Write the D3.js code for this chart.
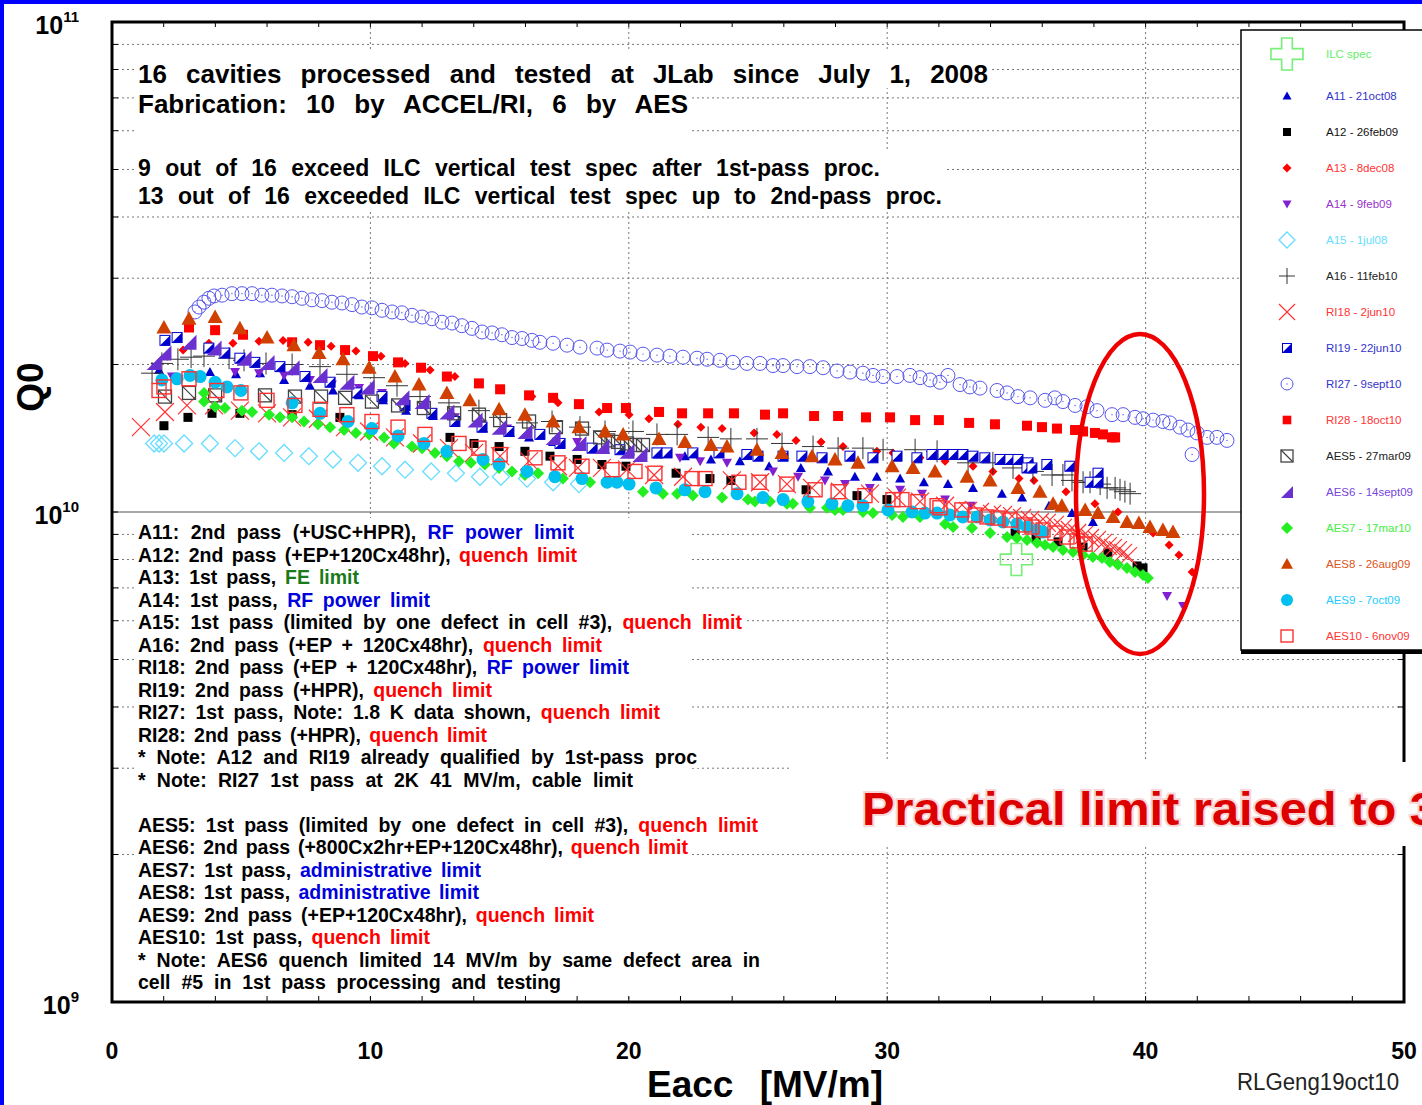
<!DOCTYPE html>
<html>
<head>
<meta charset="utf-8">
<script src="https://cdn.jsdelivr.net/npm/d3@7"></script>
<style>
  body { margin: 0; background: #fff; }
  svg { display: block; }
  text { font-family: "Liberation Sans", Arial, sans-serif; white-space: pre; }
</style>
</head>
<body>
<svg id="chart" width="1422" height="1105"></svg>
<script>
// Q0 values are in units of 1e10, Eacc in MV/m
var ilcSpec = [[35.0, 0.80]];
var a11 = [[1.82,1.95],[3.79,1.93],[4.80,1.91],[5.73,1.92],[6.66,1.86],[7.66,1.81],[8.55,1.77],[9.56,1.73],[10.49,1.69],[11.38,1.61],[12.42,1.57],[13.27,1.52],[14.36,1.48],[15.4,1.45],[16.14,1.42],[17.07,1.39],[18.07,1.36],[19.08,1.34],[20.05,1.33],[21.13,1.31],[22.17,1.30],[23.18,1.28],[24.3,1.27],[25.43,1.24],[26.66,1.23],[27.71,1.21],[28.75,1.18],[29.6,1.18],[30.5,1.17],[31.42,1.15],[32.35,1.14],[33.32,1.12],[34.44,1.09],[35.22,1.07],[36.26,1.03],[37.15,0.995],[37.96,0.954]];
var a12 = [[2.01,1.50],[2.94,1.56],[3.87,1.59],[4.95,1.59],[6.97,1.58],[8.82,1.56],[13.08,1.42],[14.01,1.38],[14.98,1.36],[15.98,1.33],[16.95,1.30],[18.0,1.28],[18.96,1.25],[19.89,1.24],[21.83,1.20],[23.14,1.17],[23.95,1.16],[26.86,1.11],[28.83,1.08],[29.99,1.06],[34.95,0.906],[35.76,0.885],[36.61,0.869],[37.58,0.848],[38.54,0.825],[39.67,0.776],[39.9,0.769]];
var a13 = [[2.13,2.08],[2.75,2.14],[3.75,2.21],[4.68,2.21],[5.69,2.23],[6.62,2.24],[7.59,2.22],[8.48,2.18],[9.44,2.13],[10.41,2.08],[11.34,2.01],[12.31,1.95],[13.27,1.89],[16.25,1.72],[17.26,1.67],[18.85,1.60],[20.01,1.58],[20.78,1.55],[21.9,1.51],[22.79,1.49],[23.61,1.48],[24.85,1.45],[25.73,1.44],[26.47,1.40],[27.44,1.39],[28.29,1.36],[29.6,1.33],[30.22,1.32],[31.27,1.29],[32.24,1.27],[33.32,1.24],[34.09,1.21],[35.1,1.17],[35.68,1.16],[36.92,1.10],[38.04,1.04],[38.93,1.0],[40.29,0.906],[40.91,0.856],[41.29,0.817],[41.8,0.754]];
var a14 = [[2.32,1.89],[4.76,1.93],[5.69,1.92],[6.66,1.90],[7.66,1.86],[8.51,1.82],[9.56,1.79],[10.45,1.75],[11.34,1.65],[12.38,1.60],[13.27,1.56],[14.32,1.51],[15.29,1.48],[18.0,1.39],[21.98,1.29],[22.76,1.27],[23.8,1.26],[25.58,1.21],[26.55,1.18],[27.59,1.16],[28.37,1.14],[29.33,1.12],[30.5,1.11],[31.35,1.09],[32.24,1.06],[33.24,1.03],[40.83,0.674],[41.45,0.643]];
var a15 = [[1.63,1.38],[1.82,1.38],[2.01,1.38],[2.79,1.38],[3.79,1.38],[4.76,1.35],[5.69,1.33],[6.66,1.32],[7.62,1.30],[8.55,1.28],[9.52,1.26],[10.45,1.24],[11.34,1.22],[12.35,1.21],[13.31,1.20],[14.24,1.18],[15.05,1.18],[16.06,1.17],[17.07,1.15],[18.07,1.14]];
var a16 = [[1.55,1.92],[1.93,2.01],[2.55,2.05],[3.06,2.07],[3.56,2.08],[4.53,2.06],[5.11,2.04],[5.96,2.01],[6.97,2.00],[8.05,1.98],[9.09,1.91],[10.14,1.88],[11.03,1.81],[11.92,1.72],[13.04,1.67],[14.2,1.61],[15.02,1.56],[16.06,1.52],[17.03,1.53],[18.11,1.49],[19.08,1.46],[20.16,1.46],[21.09,1.44],[21.87,1.44],[23.07,1.42],[23.95,1.41],[24.96,1.41],[25.93,1.38],[27.13,1.36],[28.1,1.35],[29.06,1.35],[29.84,1.34],[31.08,1.34],[31.93,1.33],[33.13,1.26],[34.09,1.26],[34.87,1.23],[35.64,1.21],[36.38,1.19],[36.8,1.19],[37.15,1.16],[37.58,1.15],[37.85,1.15],[38.24,1.14],[38.51,1.12],[38.82,1.12],[39.01,1.11],[39.2,1.10],[39.4,1.09]];
var ri18 = [[1.12,1.49],[2.05,1.60],[2.9,1.65],[3.95,1.65],[4.95,1.61],[6.0,1.59],[6.97,1.56],[7.97,1.55],[9.02,1.49],[9.95,1.46],[10.95,1.42],[12.0,1.38],[13.04,1.35],[14.01,1.32],[15.02,1.30],[16.14,1.27],[17.26,1.24],[18.03,1.23],[18.96,1.23],[19.93,1.22],[20.98,1.19],[22.1,1.18],[23.99,1.16],[25.08,1.15],[26.12,1.14],[27.09,1.12],[28.17,1.10],[29.33,1.09],[30.38,1.07],[31.27,1.05],[32.24,1.03],[32.7,1.01],[33.13,1.005],[33.59,1.0],[34.06,0.991],[34.48,0.986],[34.83,0.981],[35.22,0.972],[35.53,0.963],[35.91,0.954],[36.18,0.95],[36.49,0.941],[36.8,0.928],[37.07,0.919],[37.35,0.906],[37.62,0.898],[37.85,0.885],[38.12,0.877],[38.35,0.865],[38.54,0.852],[38.74,0.845],[38.93,0.836],[39.13,0.825],[39.32,0.813]];
var ri19 = [[2.05,2.24],[2.52,2.27],[3.75,2.16],[4.37,2.11],[4.95,2.06],[5.53,2.02],[6.5,1.98],[7.47,1.89],[8.44,1.84],[9.48,1.75],[10.45,1.72],[11.34,1.65],[12.38,1.59],[13.27,1.53],[14.32,1.49],[15.36,1.46],[16.56,1.44],[17.34,1.38],[18.58,1.35],[19.66,1.34],[21.09,1.32],[21.48,1.32],[22.48,1.32],[23.49,1.32],[24.57,1.31],[25.0,1.30],[25.97,1.30],[26.7,1.30],[27.48,1.29],[28.56,1.30],[29.45,1.29],[30.38,1.30],[31.15,1.29],[31.73,1.31],[32.16,1.31],[32.55,1.31],[32.93,1.31],[33.32,1.30],[33.78,1.29],[34.37,1.28],[34.75,1.28],[35.06,1.28],[35.45,1.26],[35.41,1.23],[35.6,1.23],[36.18,1.25],[37.07,1.24],[38.16,1.20],[37.85,1.15],[38.16,1.15]];
var ri27 = [[3.21,2.56],[3.37,2.62],[3.56,2.68],[3.75,2.73],[3.95,2.76],[4.26,2.77],[4.64,2.79],[5.03,2.79],[5.42,2.79],[5.80,2.77],[6.19,2.77],[6.58,2.76],[6.97,2.75],[7.35,2.73],[7.74,2.71],[8.13,2.70],[8.51,2.68],[8.90,2.67],[9.29,2.65],[9.67,2.62],[10.06,2.61],[10.45,2.58],[10.84,2.56],[11.22,2.55],[11.61,2.52],[12.0,2.50],[12.38,2.48],[12.77,2.44],[13.16,2.43],[13.54,2.40],[13.93,2.37],[14.32,2.33],[14.71,2.32],[15.09,2.30],[15.48,2.27],[15.87,2.26],[16.25,2.24],[16.56,2.22],[17.07,2.21],[17.61,2.19],[18.11,2.17],[18.77,2.16],[19.16,2.14],[19.66,2.13],[20.05,2.12],[20.55,2.10],[21.09,2.09],[21.59,2.08],[22.1,2.07],[22.64,2.06],[23.03,2.05],[23.53,2.04],[24.03,2.02],[24.57,2.01],[25.08,2.01],[25.58,1.99],[25.97,1.99],[26.51,1.98],[27.01,1.98],[27.52,1.97],[28.06,1.94],[28.56,1.93],[29.06,1.92],[29.45,1.90],[29.84,1.89],[30.38,1.89],[30.88,1.90],[31.27,1.88],[31.66,1.86],[32.04,1.84],[32.35,1.90],[32.82,1.82],[33.2,1.80],[33.59,1.79],[34.25,1.77],[34.64,1.75],[35.06,1.72],[35.53,1.71],[36.11,1.69],[36.49,1.71],[36.8,1.68],[37.27,1.65],[37.73,1.64],[38.12,1.61],[38.7,1.58],[39.13,1.58],[39.59,1.56],[39.9,1.55],[40.29,1.54],[40.67,1.53],[40.94,1.52],[41.33,1.49],[41.64,1.47],[41.99,1.45],[42.38,1.42],[42.76,1.42],[43.15,1.40],[41.8,1.31]];
var ri28 = [[2.98,2.38],[3.99,2.35],[5.07,2.30],[6.97,2.22],[8.05,2.19],[9.02,2.14],[10.10,2.08],[11.07,2.02],[11.96,1.97],[12.96,1.89],[14.20,1.83],[15.02,1.78],[16.14,1.73],[17.07,1.71],[18.07,1.66],[19.16,1.63],[19.89,1.63],[21.17,1.60],[22.06,1.59],[23.07,1.59],[24.07,1.59],[25.27,1.58],[25.97,1.59],[27.17,1.57],[28.10,1.57],[29.18,1.56],[30.11,1.56],[31.08,1.54],[32.0,1.54],[33.17,1.52],[34.17,1.51],[35.41,1.50],[35.99,1.49],[36.57,1.48],[37.27,1.47],[37.58,1.46],[38.04,1.45],[38.35,1.44],[38.70,1.42],[38.82,1.42]];
var aes5 = [[2.05,1.72],[2.98,1.75],[3.99,1.73],[5.92,1.73],[7.08,1.72],[8.09,1.72],[9.02,1.71],[10.06,1.68],[11.07,1.65],[12.07,1.63],[13.24,1.59],[14.2,1.58],[15.02,1.54],[16.14,1.53],[17.18,1.49],[18.19,1.48],[18.89,1.42],[19.2,1.40],[19.58,1.39],[19.93,1.38],[20.24,1.37],[20.55,1.37]];
var aes6 = [[1.63,2.02],[2.01,2.11],[2.98,2.22],[3.95,2.16],[5.11,2.06],[6.0,2.02],[6.97,1.97],[8.05,1.90],[9.09,1.84],[9.87,1.80],[11.22,1.71],[12.0,1.68],[12.96,1.60],[14.05,1.54],[14.98,1.49],[15.98,1.46],[17.07,1.42],[18.07,1.38],[18.96,1.36],[19.93,1.33],[20.43,1.31]];
var aes7 = [[3.56,1.75],[3.56,1.68],[3.99,1.64],[4.37,1.63],[5.03,1.61],[5.42,1.60],[6.08,1.58],[6.5,1.56],[6.97,1.56],[7.43,1.53],[7.97,1.51],[8.44,1.49],[8.98,1.47],[9.44,1.45],[9.95,1.44],[10.53,1.42],[10.91,1.38],[11.61,1.36],[12.0,1.35],[12.5,1.32],[12.96,1.30],[13.43,1.27],[13.89,1.26],[14.43,1.25],[14.98,1.23],[15.48,1.21],[15.98,1.19],[16.49,1.20],[17.45,1.17],[18.5,1.15],[19.54,1.15],[20.55,1.10],[21.32,1.09],[21.87,1.09],[22.48,1.08],[23.61,1.07],[24.61,1.06],[24.88,1.05],[25.46,1.05],[26.12,1.04],[26.35,1.04],[27.01,1.02],[27.67,1.02],[27.98,1.01],[28.29,1.01],[29.06,1.0],[29.45,0.995],[30.19,0.986],[30.61,0.977],[31.27,0.977],[32.24,0.945],[32.55,0.932],[33.28,0.928],[33.98,0.906],[34.64,0.889],[35.02,0.885],[35.41,0.877],[35.8,0.865],[36.11,0.856],[36.42,0.848],[36.8,0.836],[37.19,0.829],[37.58,0.817],[37.96,0.809],[38.31,0.806],[38.62,0.791],[38.93,0.780],[39.28,0.769],[39.59,0.754],[39.9,0.744],[40.09,0.733]];
var aes8 = [[2.01,2.38],[2.98,2.48],[3.99,2.50],[4.95,2.37],[6.00,2.27],[7.04,2.19],[8.01,2.11],[8.94,2.05],[9.95,1.97],[10.95,1.89],[11.88,1.82],[12.96,1.75],[13.85,1.69],[14.98,1.62],[15.98,1.58],[17.07,1.53],[18.07,1.49],[19.08,1.46],[19.78,1.44],[21.17,1.41],[22.17,1.39],[23.18,1.37],[23.80,1.36],[24.96,1.34],[25.93,1.32],[27.09,1.30],[27.98,1.28],[28.87,1.26],[30.19,1.24],[31.0,1.23],[31.85,1.21],[33.09,1.18],[33.98,1.16],[35.06,1.12],[35.91,1.10],[36.42,1.04],[36.76,1.03],[37.66,1.01],[38.16,0.995],[38.74,0.977],[39.28,0.954],[39.74,0.95],[40.17,0.932],[40.67,0.919],[41.06,0.91]];
var aes9 = [[1.93,1.86],[2.52,1.87],[3.02,1.90],[3.41,1.89],[3.99,1.84],[4.45,1.80],[4.99,1.77],[6.97,1.67],[8.05,1.59],[9.13,1.53],[10.06,1.48],[11.07,1.43],[12.07,1.38],[12.96,1.33],[14.36,1.28],[14.98,1.25],[16.06,1.21],[17.14,1.18],[18.19,1.17],[19.16,1.15],[19.54,1.15],[20.01,1.14],[21.05,1.12],[22.17,1.11],[22.95,1.10],[24.19,1.09],[25.19,1.07],[25.97,1.06],[26.93,1.05],[27.86,1.04],[28.48,1.03],[29.06,1.03],[30.03,1.01],[30.96,1.0],[31.46,0.995],[31.93,0.995],[32.43,0.986],[32.93,0.977],[33.48,0.977],[33.98,0.963],[34.48,0.954],[35.02,0.945],[35.41,0.932],[35.8,0.919],[36.03,0.91]];
var aes10 = [[1.82,1.77],[2.01,1.80],[2.98,1.87],[4.06,1.77],[4.99,1.75],[6.0,1.69],[7.08,1.65],[8.05,1.62],[9.09,1.58],[10.06,1.53],[11.07,1.49],[12.11,1.44],[13.43,1.38],[14.2,1.35],[15.02,1.31],[16.37,1.29],[17.26,1.26],[18.19,1.24],[19.35,1.22],[20.24,1.21],[21.01,1.20],[22.45,1.17],[22.95,1.17],[24.26,1.15],[25.04,1.15],[26.12,1.14],[27.21,1.11],[28.1,1.10],[29.14,1.08],[30.22,1.06],[30.57,1.06],[31.19,1.05],[31.93,1.03],[32.04,1.02],[32.89,1.01],[33.4,0.986],[33.86,0.977],[34.29,0.972],[34.75,0.963],[35.33,0.941],[35.6,0.932],[36.03,0.919],[36.49,0.906],[36.96,0.889],[37.35,0.873],[37.66,0.86]];

var legendLabels = ["ILC spec", "A11 - 21oct08", "A12 - 26feb09", "A13 - 8dec08", "A14 - 9feb09", "A15 - 1jul08", "A16 - 11feb10", "RI18 - 2jun10", "RI19 - 22jun10", "RI27 - 9sept10", "RI28 - 18oct10", "AES5 - 27mar09", "AES6 - 14sept09", "AES7 - 17mar10", "AES8 - 26aug09", "AES9 - 7oct09", "AES10 - 6nov09"];
var xTicks = [0, 10, 20, 30, 40, 50];

var topLines = [
  "16 cavities processed and tested at JLab since July 1, 2008",
  "Fabrication: 10 by ACCEL/RI, 6 by AES",
  "9 out of 16 exceed ILC vertical test spec after 1st-pass proc.",
  "13 out of 16 exceeded ILC vertical test spec up to 2nd-pass proc."
];
var noteLines = [
  [["A11: 2nd pass (+USC+HPR), ", "k"], ["RF power limit", "b"]],
  [["A12: 2nd pass (+EP+120Cx48hr), ", "k"], ["quench limit", "r"]],
  [["A13: 1st pass, ", "k"], ["FE limit", "g"]],
  [["A14: 1st pass, ", "k"], ["RF power limit", "b"]],
  [["A15: 1st pass (limited by one defect in cell #3), ", "k"], ["quench limit", "r"]],
  [["A16: 2nd pass (+EP + 120Cx48hr), ", "k"], ["quench limit", "r"]],
  [["RI18: 2nd pass (+EP + 120Cx48hr), ", "k"], ["RF power limit", "b"]],
  [["RI19: 2nd pass (+HPR), ", "k"], ["quench limit", "r"]],
  [["RI27: 1st pass, Note: 1.8 K data shown, ", "k"], ["quench limit", "r"]],
  [["RI28: 2nd pass (+HPR), ", "k"], ["quench limit", "r"]],
  [["* Note: A12 and RI19 already qualified by 1st-pass proc", "k"]],
  [["* Note: RI27 1st pass at 2K 41 MV/m, cable limit", "k"]],
  [],
  [["AES5: 1st pass (limited by one defect in cell #3), ", "k"], ["quench limit", "r"]],
  [["AES6: 2nd pass (+800Cx2hr+EP+120Cx48hr), ", "k"], ["quench limit", "r"]],
  [["AES7: 1st pass, ", "k"], ["administrative limit", "b"]],
  [["AES8: 1st pass, ", "k"], ["administrative limit", "b"]],
  [["AES9: 2nd pass (+EP+120Cx48hr), ", "k"], ["quench limit", "r"]],
  [["AES10: 1st pass, ", "k"], ["quench limit", "r"]],
  [["* Note: AES6 quench limited 14 MV/m by same defect area in", "k"]],
  [["cell #5 in 1st pass processing and testing", "k"]]
];
// right end of each note line in the reference, used to spread the words
var noteEnds = [574, 577, 359, 430, 742, 602, 629, 492, 660, 487, 697, 633, 0, 758, 688, 481, 479, 594, 430, 760, 561];
var topEnds = [988, 688, 880, 942];

var inkColor = { k: "#000", b: "#0000dd", r: "#ff0000", g: "#1a7a1a" };

var series = [
  { data: a11, type: "triUp", color: "#0000cc", size: 5, lsize: 4.5, text: "#3333cc" },
  { data: a12, type: "square", color: "#000000", size: 4.5, lsize: 4, text: "#111" },
  { data: a13, type: "diamond", color: "#ff0000", size: 4.5, lsize: 4.5, text: "#ff3333" },
  { data: a14, type: "triDown", color: "#8020d0", size: 5, lsize: 4.5, text: "#9933cc" },
  { data: a15, type: "diamondOpen", color: "#66ddff", size: 8.5, lsize: 8, text: "#66ddff" },
  { data: a16, type: "plus", color: "#333333", size: 11, lsize: 8, text: "#222" },
  { data: ri18, type: "cross", color: "#ff3333", size: 9, lsize: 8, text: "#ff3333" },
  { data: ri19, type: "halfSquare", color: "#0000cc", size: 5, lsize: 4.5, text: "#3333cc" },
  { data: ri27, type: "circleDot", color: "#5555ee", size: 7, lsize: 6, text: "#3333cc" },
  { data: ri28, type: "square", color: "#ff0000", size: 5, lsize: 4.3, text: "#ff3333" },
  { data: aes5, type: "squareSlash", color: "#444444", size: 6.5, lsize: 6, text: "#222" },
  { data: aes6, type: "rightTri", color: "#6a30d0", size: 7.5, lsize: 6, text: "#7744dd" },
  { data: aes7, type: "diamond", color: "#22ee22", size: 6, lsize: 6, text: "#44ee44" },
  { data: aes8, type: "triUp", color: "#d04000", size: 7.5, lsize: 6, text: "#dd5522" },
  { data: aes9, type: "circle", color: "#00c0f0", size: 6.5, lsize: 6, text: "#22ccff" },
  { data: aes10, type: "squareOpen", color: "#ff3030", size: 7, lsize: 6, text: "#ff3333" }
];

var svg = d3.select("#chart");
var x = d3.scaleLinear().domain([0, 50]).range([112, 1404]);
var y = d3.scaleLog().domain([1e9, 1e11]).range([1002, 22]);

function mark(g, type, c, s) {
  if (type == "triUp") {
    g.append("path").attr("d", `M0,${-s}L${s},${s * 0.8}L${-s},${s * 0.8}Z`).attr("fill", c);
  } else if (type == "triDown") {
    g.append("path").attr("d", `M0,${s}L${s},${-s * 0.8}L${-s},${-s * 0.8}Z`).attr("fill", c);
  } else if (type == "square") {
    g.append("rect").attr("x", -s).attr("y", -s).attr("width", 2 * s).attr("height", 2 * s).attr("fill", c);
  } else if (type == "diamond" || type == "diamondOpen") {
    var open = type == "diamondOpen";
    g.append("path").attr("d", `M0,${-s}L${s},0L0,${s}L${-s},0Z`)
      .attr("fill", open ? "none" : c).attr("stroke", open ? c : "none").attr("stroke-width", 1.3);
  } else if (type == "plus") {
    g.append("path").attr("d", `M${-s},0H${s}M0,${-s}V${s}`).attr("stroke", c).attr("stroke-width", 1);
  } else if (type == "cross") {
    g.append("path").attr("d", `M${-s},${-s}L${s},${s}M${s},${-s}L${-s},${s}`).attr("stroke", c).attr("stroke-width", 1.2);
  } else if (type == "halfSquare") {
    g.append("rect").attr("x", -s).attr("y", -s).attr("width", 2 * s).attr("height", 2 * s)
      .attr("fill", "#fff").attr("stroke", c).attr("stroke-width", 1);
    g.append("path").attr("d", `M${s},${-s}L${s},${s}L${-s},${s}Z`).attr("fill", c);
  } else if (type == "circleDot") {
    g.append("circle").attr("r", s).attr("fill", "none").attr("stroke", c).attr("stroke-width", 1);
    g.append("circle").attr("r", 0.7).attr("fill", c);
  } else if (type == "squareSlash") {
    g.append("rect").attr("x", -s).attr("y", -s).attr("width", 2 * s).attr("height", 2 * s)
      .attr("fill", "none").attr("stroke", c).attr("stroke-width", 1.3);
    g.append("path").attr("d", `M${-s},${-s}L${s},${s}`).attr("stroke", c).attr("stroke-width", 1.3);
  } else if (type == "rightTri") {
    g.append("path").attr("d", `M${-s},${s}L${s},${s}L${s},${-s}Z`).attr("fill", c);
  } else if (type == "circle") {
    g.append("circle").attr("r", s).attr("fill", c);
  } else if (type == "squareOpen") {
    g.append("rect").attr("x", -s).attr("y", -s).attr("width", 2 * s).attr("height", 2 * s)
      .attr("fill", "none").attr("stroke", c).attr("stroke-width", 1.4);
  } else if (type == "bigPlus") {
    var a = s / 3;
    g.append("path")
      .attr("d", `M${-a},${-s}H${a}V${-a}H${s}V${a}H${a}V${s}H${-a}V${a}H${-s}V${-a}H${-a}Z`)
      .attr("fill", "none").attr("stroke", c).attr("stroke-width", 1.6);
  }
}

// slide border
svg.append("rect").attr("x", 0).attr("y", 0).attr("width", 1422).attr("height", 4).attr("fill", "#0000ff");
svg.append("rect").attr("x", 0).attr("y", 0).attr("width", 4).attr("height", 1105).attr("fill", "#0000ff");

// grid
var minorQ = [];
[1e9, 1e10].forEach(dec => { for (var k = 2; k <= 9; k++) minorQ.push(k * dec); });
var grid = svg.append("g");
grid.selectAll("line.h").data(minorQ).join("line")
  .attr("x1", x(0)).attr("x2", x(50)).attr("y1", d => y(d)).attr("y2", d => y(d))
  .attr("stroke", "#777").attr("stroke-dasharray", "2,3");
grid.selectAll("line.v").data([10, 20, 30, 40]).join("line")
  .attr("x1", d => x(d)).attr("x2", d => x(d)).attr("y1", y(1e11)).attr("y2", y(1e9))
  .attr("stroke", "#777").attr("stroke-dasharray", "2,3");
grid.append("line").attr("x1", x(0)).attr("x2", x(50)).attr("y1", y(1e10)).attr("y2", y(1e10))
  .attr("stroke", "#555").attr("stroke-width", 1);

// text boxes (white background hides the grid)
var notes = svg.append("g");
notes.append("rect").attr("x", 135).attr("y", 52).attr("width", 857).attr("height", 36).attr("fill", "#fff");
notes.append("rect").attr("x", 135).attr("y", 88).attr("width", 557).attr("height", 64).attr("fill", "#fff");
notes.append("rect").attr("x", 135).attr("y", 150).attr("width", 810).attr("height", 60).attr("fill", "#fff");
notes.append("rect").attr("x", 135).attr("y", 518).attr("width", 555).attr("height", 478).attr("fill", "#fff");
noteEnds.forEach((e, i) => {
  if (e > 690) notes.append("rect").attr("x", 135).attr("y", 538 + 22.5 * i - 17)
    .attr("width", e - 131).attr("height", 22).attr("fill", "#fff");
});

function spread(t, x0, x1) {
  var node = t.node();
  var n = (node.textContent.match(/ /g) || []).length;
  var w = node.getComputedTextLength();
  if (n > 0) t.attr("word-spacing", (x1 - x0 - w) / n);
}

var topBase = [83, 113, 176, 204];
topLines.forEach((s, i) => {
  var t = notes.append("text").attr("x", 138).attr("y", topBase[i])
    .attr("font-size", i < 2 ? 26 : 23).attr("font-weight", "bold").attr("fill", "#000").text(s);
  spread(t, 138, topEnds[i]);
});

noteLines.forEach((parts, i) => {
  if (!parts.length) return;
  var t = notes.append("text").attr("x", 138).attr("y", 539 + 22.5 * i)
    .attr("font-size", 19.5).attr("font-weight", "bold");
  parts.forEach(p => t.append("tspan").attr("fill", inkColor[p[1]]).text(p[0]));
  spread(t, 138, noteEnds[i]);
});

// data marks
var plot = svg.append("g");
series.forEach(s => {
  plot.append("g").selectAll("g").data(s.data).join("g")
    .attr("transform", d => `translate(${x(d[0])},${y(d[1] * 1e10)})`)
    .each(function() { mark(d3.select(this), s.type, s.color, s.size); });
});
plot.append("g").selectAll("g").data(ilcSpec).join("g")
  .attr("transform", d => `translate(${x(d[0])},${y(d[1] * 1e10)})`)
  .each(function() { mark(d3.select(this), "bigPlus", "#77ee77", 16); });

// frame and ticks
var axes = svg.append("g");
axes.append("rect").attr("x", x(0)).attr("y", y(1e11)).attr("width", x(50) - x(0)).attr("height", y(1e9) - y(1e11))
  .attr("fill", "none").attr("stroke", "#000").attr("stroke-width", 3);
var xMinor = d3.range(2, 50, 2);
axes.selectAll("line.xb").data(xMinor).join("line")
  .attr("x1", d => x(d)).attr("x2", d => x(d)).attr("y1", y(1e9)).attr("y2", y(1e9) - 6)
  .attr("stroke", "#000").attr("stroke-width", 1);
axes.selectAll("line.xt").data(xMinor).join("line")
  .attr("x1", d => x(d)).attr("x2", d => x(d)).attr("y1", y(1e11)).attr("y2", y(1e11) + 5)
  .attr("stroke", "#000").attr("stroke-width", 1);
var yTicks = minorQ.concat([1e10]);
axes.selectAll("line.yl").data(yTicks).join("line")
  .attr("x1", x(0)).attr("x2", x(0) + 6).attr("y1", d => y(d)).attr("y2", d => y(d))
  .attr("stroke", "#000").attr("stroke-width", 1);
axes.selectAll("line.yr").data(yTicks).join("line")
  .attr("x1", x(50)).attr("x2", x(50) - 6).attr("y1", d => y(d)).attr("y2", d => y(d))
  .attr("stroke", "#000").attr("stroke-width", 1);

axes.selectAll("text.xl").data(xTicks).join("text")
  .attr("x", d => x(d)).attr("y", 1059).attr("text-anchor", "middle")
  .attr("font-size", 23).attr("font-weight", "bold").text(d => d);

var yLabels = [[1e11, "11"], [1e10, "10"], [1e9, "9"]];
yLabels.forEach(l => {
  var t = axes.append("text").attr("x", 79).attr("y", y(l[0]) + 12).attr("text-anchor", "end")
    .attr("font-weight", "bold").attr("font-size", 25);
  t.append("tspan").text("10");
  t.append("tspan").attr("dy", -12).attr("font-size", 15).text(l[1]);
});

axes.append("text").attr("transform", "translate(43,387) rotate(-90)").attr("text-anchor", "middle")
  .attr("font-size", 37).attr("font-weight", "bold").text("Q0");

var xt = axes.append("text").attr("x", 647).attr("y", 1097).attr("font-size", 37).attr("font-weight", "bold")
  .text("Eacc [MV/m]");
spread(xt, 647, 883);

axes.append("text").attr("x", 1237).attr("y", 1090).attr("font-family", "Roboto, sans-serif")
  .attr("font-size", 23).attr("textLength", 162).attr("lengthAdjust", "spacingAndGlyphs")
  .attr("fill", "#222").text("RLGeng19oct10");

// legend
var legend = svg.append("g");
legend.append("rect").attr("x", 1241).attr("y", 649).attr("width", 200).attr("height", 5).attr("fill", "#000");
legend.append("rect").attr("x", 1241).attr("y", 30).attr("width", 200).attr("height", 620)
  .attr("fill", "#fff").attr("stroke", "#000").attr("stroke-width", 1.5);
var rowY = i => (i == 0 ? 54 : 96 + 36 * (i - 1));
var first = legend.append("g").attr("transform", `translate(1287,${rowY(0)})`);
mark(first, "bigPlus", "#77ee77", 16);
series.forEach((s, i) => {
  var g = legend.append("g").attr("transform", `translate(1287,${rowY(i + 1)})`);
  mark(g, s.type, s.color, s.lsize);
});
legend.selectAll("text").data(legendLabels).join("text")
  .attr("x", 1326).attr("y", (d, i) => rowY(i) + 4).attr("font-size", 11.5)
  .attr("fill", (d, i) => (i == 0 ? "#66ee66" : series[i - 1].text)).text(d => d);

// highlighted region
svg.append("ellipse").attr("cx", 1140).attr("cy", 494).attr("rx", 64).attr("ry", 160)
  .attr("fill", "none").attr("stroke", "#ee0000").attr("stroke-width", 4.5);

// callout
svg.append("rect").attr("x", 790).attr("y", 762).attr("width", 632).attr("height", 84).attr("fill", "#fff");
svg.append("text").attr("x", 862).attr("y", 825).attr("font-family", "'Open Sans', sans-serif")
  .attr("font-weight", 600).attr("font-size", 46).attr("fill", "#dd0000")
  .attr("stroke", "#f9d6d6").attr("stroke-width", 4).attr("paint-order", "stroke")
  .attr("textLength", 575).attr("lengthAdjust", "spacingAndGlyphs")
  .text("Practical limit raised to 3");
</script>
</body>
</html>
